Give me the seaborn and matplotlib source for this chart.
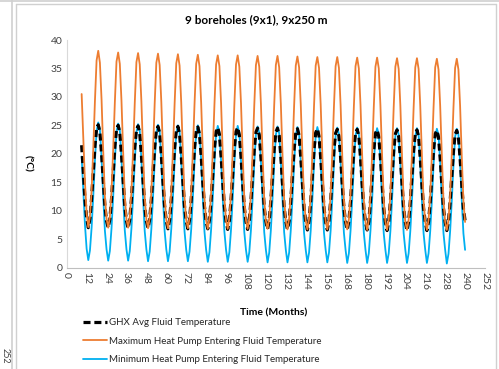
import matplotlib
matplotlib.use("Agg")
import matplotlib.pyplot as plt
from matplotlib.lines import Line2D
import seaborn as sns
import pandas as pd

# ---------------- data ----------------
months = list(range(9, 241))
x_ticks = list(range(0, 253, 12))
y_ticks = list(range(0, 41, 5))

title = "9 boreholes (9x1), 9x250 m"
x_label = "Time (Months)"
y_label = "(°C)"
labels = ["GHX Avg Fluid Temperature",
          "Maximum Heat Pump Entering Fluid Temperature",
          "Minimum Heat Pump Entering Fluid Temperature"]

# first partial year (months 9-12), then one row per year (Jan..Dec)
ghx_start = [21.5, 17.0, 12.0, 8.8]
ghx_years = [
    [7.0, 8.6, 12.2, 16.8, 21.4, 24.4, 25.1, 23.8, 20.0, 15.3, 10.9, 8.2],
    [7.0, 8.5, 12.1, 16.7, 21.3, 24.3, 25.0, 23.7, 19.9, 15.2, 10.8, 8.2],
    [6.9, 8.5, 12.1, 16.7, 21.2, 24.2, 24.9, 23.6, 19.8, 15.2, 10.8, 8.2],
    [6.9, 8.5, 12.0, 16.6, 21.2, 24.1, 24.8, 23.6, 19.8, 15.1, 10.8, 8.2],
    [6.8, 8.4, 12.0, 16.6, 21.1, 24.0, 24.8, 23.5, 19.7, 15.1, 10.7, 8.2],
    [6.8, 8.4, 11.9, 16.5, 21.1, 24.0, 24.7, 23.4, 19.7, 15.0, 10.7, 8.1],
    [6.8, 8.4, 11.9, 16.5, 21.0, 23.9, 24.6, 23.4, 19.6, 15.0, 10.7, 8.1],
    [6.7, 8.3, 11.9, 16.4, 21.0, 23.9, 24.6, 23.3, 19.6, 14.9, 10.6, 8.1],
    [6.7, 8.3, 11.8, 16.4, 20.9, 23.8, 24.5, 23.3, 19.5, 14.9, 10.6, 8.1],
    [6.7, 8.3, 11.8, 16.4, 20.9, 23.8, 24.5, 23.2, 19.5, 14.8, 10.6, 8.1],
    [6.7, 8.2, 11.8, 16.3, 20.9, 23.7, 24.4, 23.2, 19.4, 14.8, 10.5, 8.1],
    [6.6, 8.2, 11.7, 16.3, 20.8, 23.7, 24.4, 23.1, 19.4, 14.8, 10.5, 8.0],
    [6.6, 8.2, 11.7, 16.3, 20.8, 23.6, 24.3, 23.1, 19.4, 14.7, 10.5, 8.0],
    [6.6, 8.2, 11.7, 16.2, 20.8, 23.6, 24.3, 23.1, 19.3, 14.7, 10.5, 8.0],
    [6.6, 8.1, 11.7, 16.2, 20.7, 23.6, 24.2, 23.0, 19.3, 14.7, 10.4, 8.0],
    [6.5, 8.1, 11.6, 16.2, 20.7, 23.5, 24.2, 23.0, 19.3, 14.7, 10.4, 8.0],
    [6.5, 8.1, 11.6, 16.2, 20.7, 23.5, 24.2, 23.0, 19.2, 14.6, 10.4, 8.0],
    [6.5, 8.1, 11.6, 16.1, 20.7, 23.5, 24.1, 22.9, 19.2, 14.6, 10.4, 8.0],
    [6.5, 8.1, 11.6, 16.1, 20.6, 23.4, 24.1, 22.9, 19.2, 14.6, 10.4, 8.2],
]

max_start = [30.5, 23.0, 15.0, 9.5]
max_years = [
    [7.1, 9.0, 13.5, 20.8, 29.2, 36.4, 38.1, 36.0, 29.5, 20.5, 12.5, 8.6],
    [7.0, 8.9, 13.4, 20.7, 29.0, 36.2, 37.8, 35.8, 29.3, 20.4, 12.4, 8.5],
    [7.0, 8.9, 13.3, 20.6, 28.9, 36.1, 37.7, 35.7, 29.2, 20.3, 12.3, 8.5],
    [6.9, 8.8, 13.3, 20.5, 28.8, 36.0, 37.6, 35.6, 29.1, 20.2, 12.3, 8.4],
    [6.9, 8.8, 13.2, 20.5, 28.7, 35.9, 37.5, 35.5, 29.0, 20.1, 12.2, 8.4],
    [6.9, 8.7, 13.2, 20.4, 28.7, 35.8, 37.4, 35.4, 29.0, 20.1, 12.2, 8.3],
    [6.8, 8.7, 13.1, 20.4, 28.6, 35.7, 37.3, 35.4, 28.9, 20.0, 12.1, 8.3],
    [6.8, 8.7, 13.1, 20.3, 28.6, 35.7, 37.3, 35.3, 28.9, 20.0, 12.1, 8.3],
    [6.8, 8.6, 13.0, 20.3, 28.5, 35.6, 37.2, 35.3, 28.8, 19.9, 12.0, 8.2],
    [6.8, 8.6, 13.0, 20.2, 28.5, 35.6, 37.2, 35.2, 28.8, 19.9, 12.0, 8.2],
    [6.7, 8.6, 13.0, 20.2, 28.4, 35.5, 37.1, 35.2, 28.7, 19.8, 12.0, 8.2],
    [6.7, 8.5, 12.9, 20.1, 28.4, 35.5, 37.0, 35.1, 28.7, 19.8, 11.9, 8.1],
    [6.7, 8.5, 12.9, 20.1, 28.3, 35.4, 37.0, 35.1, 28.6, 19.7, 11.9, 8.1],
    [6.7, 8.5, 12.9, 20.0, 28.3, 35.4, 36.9, 35.0, 28.6, 19.7, 11.9, 8.1],
    [6.6, 8.4, 12.8, 20.0, 28.2, 35.3, 36.9, 35.0, 28.5, 19.7, 11.8, 8.1],
    [6.6, 8.4, 12.8, 20.0, 28.2, 35.3, 36.8, 34.9, 28.5, 19.6, 11.8, 8.0],
    [6.6, 8.4, 12.8, 19.9, 28.1, 35.2, 36.8, 34.9, 28.4, 19.6, 11.8, 8.0],
    [6.6, 8.4, 12.7, 19.9, 28.1, 35.2, 36.7, 34.8, 28.4, 19.6, 11.7, 8.0],
    [6.6, 8.3, 12.7, 19.9, 28.1, 35.1, 36.7, 34.8, 28.4, 19.5, 11.7, 8.0],
]

min_start = [19.5, 13.5, 7.5, 3.3]
min_years = [
    [1.3, 3.0, 7.0, 12.5, 18.7, 24.0, 25.5, 24.3, 19.2, 12.5, 6.5, 3.2],
    [1.2, 2.9, 6.9, 12.4, 18.6, 23.9, 25.3, 24.2, 19.1, 12.4, 6.5, 3.2],
    [1.2, 2.9, 6.9, 12.4, 18.5, 23.8, 25.2, 24.1, 19.0, 12.3, 6.4, 3.2],
    [1.1, 2.8, 6.8, 12.3, 18.5, 23.7, 25.1, 24.0, 19.0, 12.3, 6.4, 3.2],
    [1.1, 2.8, 6.8, 12.3, 18.4, 23.6, 25.0, 23.9, 18.9, 12.2, 6.3, 3.1],
    [1.1, 2.8, 6.7, 12.2, 18.4, 23.6, 25.0, 23.9, 18.9, 12.2, 6.3, 3.1],
    [1.0, 2.7, 6.7, 12.2, 18.3, 23.5, 24.9, 23.8, 18.8, 12.1, 6.3, 3.1],
    [1.0, 2.7, 6.7, 12.1, 18.3, 23.4, 24.9, 23.7, 18.8, 12.1, 6.2, 3.1],
    [1.0, 2.7, 6.6, 12.1, 18.2, 23.4, 24.8, 23.7, 18.7, 12.1, 6.2, 3.1],
    [0.9, 2.6, 6.6, 12.1, 18.2, 23.3, 24.8, 23.6, 18.7, 12.0, 6.2, 3.1],
    [0.9, 2.6, 6.6, 12.0, 18.1, 23.3, 24.7, 23.6, 18.6, 12.0, 6.1, 3.1],
    [0.9, 2.6, 6.5, 12.0, 18.1, 23.2, 24.7, 23.5, 18.6, 12.0, 6.1, 3.1],
    [0.9, 2.6, 6.5, 12.0, 18.1, 23.2, 24.6, 23.5, 18.6, 11.9, 6.1, 3.1],
    [0.8, 2.5, 6.5, 11.9, 18.0, 23.2, 24.6, 23.5, 18.5, 11.9, 6.1, 3.1],
    [0.8, 2.5, 6.5, 11.9, 18.0, 23.1, 24.5, 23.4, 18.5, 11.9, 6.0, 3.1],
    [0.8, 2.5, 6.4, 11.9, 18.0, 23.1, 24.5, 23.4, 18.5, 11.9, 6.0, 3.1],
    [0.8, 2.5, 6.4, 11.8, 17.9, 23.1, 24.5, 23.4, 18.4, 11.8, 6.0, 3.1],
    [0.8, 2.5, 6.4, 11.8, 17.9, 23.0, 24.4, 23.3, 18.4, 11.8, 6.0, 3.1],
    [0.7, 2.4, 6.4, 11.8, 17.9, 23.0, 24.4, 23.3, 18.4, 11.8, 6.0, 3.1],
]

ghx_avg = ghx_start + [v for row in ghx_years for v in row]
max_hp = max_start + [v for row in max_years for v in row]
min_hp = min_start + [v for row in min_years for v in row]

df = pd.DataFrame({"month": months, "ghx": ghx_avg, "max": max_hp, "min": min_hp})

# ---------------- style ----------------
sns.set_theme(style="white")
plt.rcParams["font.family"] = ["Lato", "DejaVu Sans"]

W, H = 499, 369
fig = plt.figure(figsize=(W / 100, H / 100), dpi=100)

def fx(px):
    return px / W

def fy(py):
    return 1 - py / H

ax = fig.add_axes([fx(66.7), fy(267.5), fx(485) - fx(66.7), fy(40) - fy(267.5)])

c_orange = "#ED7D31"
c_blue = "#00B0F0"
dash = (0, (2.2, 1.2))

sns.lineplot(data=df, x="month", y="min", ax=ax, color=c_blue, linewidth=1.3)
sns.lineplot(data=df, x="month", y="ghx", ax=ax, color="black", linewidth=2.3,
             linestyle=dash)
sns.lineplot(data=df, x="month", y="max", ax=ax, color=c_orange, linewidth=1.3)

ax.set_xlim(0, 252)
ax.set_ylim(0, 40)
ax.set_xticks(x_ticks)
ax.set_xticklabels([str(t) for t in x_ticks], rotation=-90, fontsize=7.5, color="#404040")
ax.set_yticks(y_ticks)
ax.set_yticklabels([str(t) for t in y_ticks], fontsize=7.5, color="#404040")
ax.tick_params(axis="both", length=0, pad=3)
ax.set_xlabel("")
ax.set_ylabel("")
for s in ["top", "right"]:
    ax.spines[s].set_visible(False)
ax.spines["left"].set_color("#d9d9d9")
ax.spines["bottom"].set_color("#bfbfbf")
ax.spines["left"].set_linewidth(0.8)
ax.spines["bottom"].set_linewidth(0.8)

fig.text(fx(256), fy(20), title, ha="center", va="center", fontsize=8.5,
         fontweight="bold", color="black")
fig.text(fx(274), fy(313), x_label, ha="center", va="center", fontsize=7.5,
         fontweight="bold", color="black")
fig.text(fx(28), fy(163), y_label, ha="center", va="center", fontsize=7.5,
         fontweight="bold", color="black", rotation=270)

handles = [
    Line2D([], [], color="black", linewidth=2.3, linestyle=dash),
    Line2D([], [], color=c_orange, linewidth=1.3),
    Line2D([], [], color=c_blue, linewidth=1.3),
]
fig.legend(handles, labels, loc="upper left", bbox_to_anchor=(fx(83), fy(318)),
           frameon=False, fontsize=7, handlelength=2.5, handletextpad=0.2,
           labelspacing=0.98, borderaxespad=0, borderpad=0)

# surrounding frame of the screenshot
frame_c = "#d0d0d0"
fig.add_artist(Line2D([fx(12), fx(12)], [0, 1], color=frame_c, linewidth=1.2))
fig.add_artist(Line2D([0, 1], [fy(1), fy(1)], color=frame_c, linewidth=1.2))
fig.add_artist(Line2D([fx(16), fx(16)], [0, fy(4)], color=frame_c, linewidth=1))
fig.add_artist(Line2D([fx(16), fx(496)], [fy(4), fy(4)], color=frame_c, linewidth=1))
fig.add_artist(Line2D([fx(496), fx(496)], [0, fy(4)], color=frame_c, linewidth=1))
fig.text(fx(5.5), fy(356), "252", ha="center", va="center", fontsize=6.5,
         color="#404040", rotation=270)

fig.savefig("out.png", dpi=100)
